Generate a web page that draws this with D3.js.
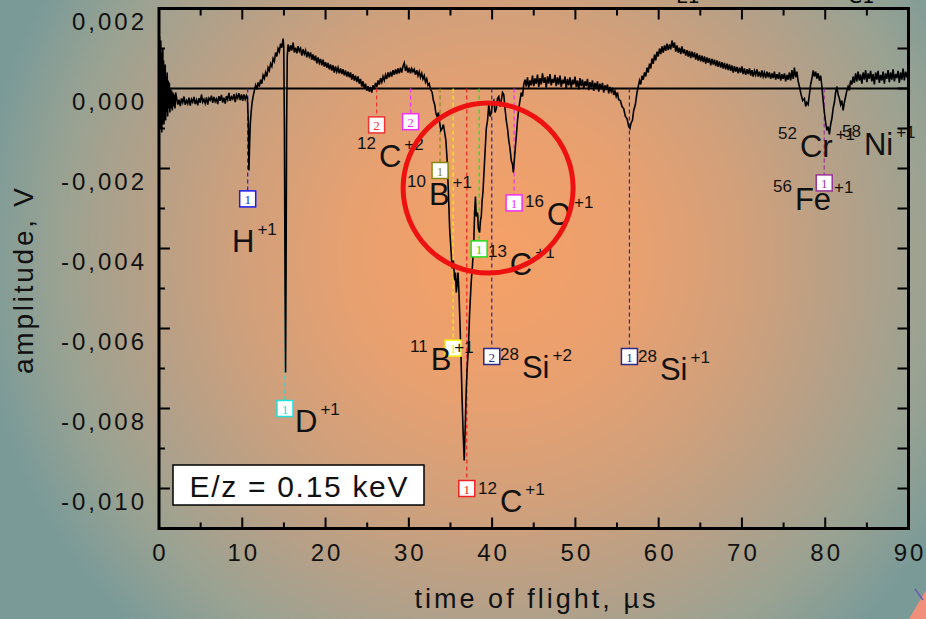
<!DOCTYPE html>
<html><head><meta charset="utf-8">
<script src="https://cdn.jsdelivr.net/npm/d3@7"></script>
<style>body{margin:0;overflow:hidden;background:#a8a08c} svg{display:block}</style>
</head><body>
<svg id="c" width="926" height="619"></svg>
<script>
// ---------- data ----------
const xTickValues = [0,10,20,30,40,50,60,70,80,90];
const xMinorValues = [5,15,25,35,45,55,65,75,85];
const yTickValues = [0.002,0,-0.002,-0.004,-0.006,-0.008,-0.010];
const yMinorValues = [0.001,-0.001,-0.003,-0.005,-0.007,-0.009,-0.011];
const xTitle = "time of flight, \u00b5s";
const yTitle = "amplitude, V";
const energyNote = "E/z = 0.15 keV";

// [time of flight (µs), amplitude (mV)]
const signalMilliV = [
[0.02,0.4],[0.06,1.3],[0.1,-0.5],[0.14,1.0],[0.18,-1.0],[0.22,1.2],[0.26,-0.8],[0.3,0.9],[0.34,-1.1],[0.38,0.6],
[0.42,-0.9],[0.46,1.0],[0.5,-0.6],[0.55,0.7],[0.6,-0.9],[0.65,0.5],[0.7,-0.7],[0.75,0.6],[0.8,-0.8],[0.86,0.3],
[0.92,-0.6],[0.98,0.4],[1.04,-0.7],[1.1,0.2],[1.17,-0.5],[1.24,0.15],[1.31,-0.6],[1.38,0.0],[1.45,-0.5],[1.52,-0.05],
[1.6,-0.55],[1.68,-0.1],[1.76,-0.45],[1.84,-0.15],[1.92,-0.5],[2.0,-0.1],
[2.10,-0.22],[2.25,-0.40],[2.40,-0.28],[2.55,-0.44],[2.70,-0.25],[2.85,-0.35],[3.00,-0.20],[3.15,-0.41],[3.30,-0.30],[3.45,-0.38],
[3.60,-0.23],[3.75,-0.43],[3.90,-0.27],[4.05,-0.34],[4.20,-0.21],[4.35,-0.39],[4.50,-0.29],[4.65,-0.42],[4.80,-0.24],[4.95,-0.36],
[5.10,-0.15],[5.25,-0.34],[5.40,-0.27],[5.55,-0.37],[5.70,-0.22],[5.85,-0.40],[6.00,-0.24],[6.15,-0.29],[6.30,-0.18],[6.45,-0.36],
[6.60,-0.21],[6.75,-0.33],[6.90,-0.26],[7.05,-0.39],[7.20,-0.19],[7.35,-0.31],[7.50,-0.16],[7.65,-0.35],[7.80,-0.23],[7.95,-0.38],
[8.10,-0.19],[8.25,-0.28],[8.40,-0.11],[8.55,-0.31],[8.70,-0.21],[8.85,-0.26],[9.00,-0.14],[9.15,-0.34],[9.30,-0.16],[9.45,-0.24],
[9.60,-0.12],[9.75,-0.29],[9.90,-0.15],[10.05,-0.31],[10.20,-0.15],[10.35,-0.27],[10.50,-0.18],
[10.62,-0.25],[10.72,-0.8],[10.8,-2.05],[10.88,-1.4],[10.96,-0.9],[11.06,-0.6],[11.18,-0.35],[11.3,-0.2],
[11.45,-0.05],[11.60,0.08],[11.75,-0.02],[11.90,0.15],[12.05,0.05],[12.20,0.22],[12.35,0.12],[12.50,0.33],[12.65,0.25],[12.80,0.40],
[12.95,0.30],[13.10,0.52],[13.25,0.45],[13.40,0.62],[13.55,0.55],[13.70,0.75],[13.85,0.68],[14.00,0.90],[14.15,0.80],[14.30,1.00],
[14.45,0.92],[14.60,1.12],[14.75,1.02],[14.90,1.25],[14.98,1.05],
[15.06,-1.0],[15.14,-5.0],[15.2,-7.1],[15.26,-4.5],[15.32,-1.0],[15.4,0.8],
[15.50,1.10],[15.65,0.92],[15.80,1.08],[15.95,0.95],[16.10,1.15],[16.25,0.90],[16.40,1.02],[16.55,0.88],[16.70,1.06],[16.85,0.93],
[17.00,1.00],[17.15,0.82],[17.30,0.98],[17.45,0.86],[17.60,0.95],[17.75,0.78],[17.90,0.92],[18.05,0.80],[18.20,0.90],[18.35,0.72],
[18.50,0.85],[18.65,0.70],[18.80,0.82],[18.95,0.63],[19.10,0.78],[19.25,0.64],[19.40,0.74],[19.55,0.58],[19.70,0.72],[19.85,0.55],
[20.00,0.66],[20.15,0.52],[20.30,0.64],[20.45,0.48],[20.60,0.60],[20.75,0.45],[20.90,0.58],[21.05,0.40],[21.20,0.55],[21.35,0.42],
[21.50,0.52],[21.65,0.38],[21.80,0.50],[21.95,0.36],[22.10,0.48],[22.25,0.33],[22.40,0.45],[22.55,0.30],[22.70,0.42],[22.85,0.28],
[23.00,0.40],[23.15,0.22],[23.30,0.36],[23.45,0.20],[23.60,0.32],[23.75,0.16],[23.90,0.30],[24.05,0.12],[24.20,0.24],[24.35,0.05],
[24.50,0.18],[24.65,0.00],[24.80,0.12],[24.95,-0.06],[25.10,0.06],[25.25,-0.08],[25.40,0.04],[25.55,-0.10],[25.70,0.08],[25.85,-0.02],
[26.00,0.14],[26.15,0.04],[26.30,0.20],[26.45,0.10],[26.60,0.26],[26.75,0.16],[26.90,0.30],[27.05,0.20],[27.20,0.34],[27.35,0.24],
[27.50,0.40],[27.65,0.28],[27.80,0.42],[27.95,0.30],[28.10,0.46],[28.25,0.34],[28.40,0.48],[28.55,0.36],[28.70,0.50],[28.85,0.38],
[29.00,0.52],[29.15,0.40],[29.30,0.56],[29.45,0.64],[29.60,0.44],[29.75,0.54],[29.90,0.40],[30.05,0.52],[30.20,0.38],[30.35,0.50],
[30.50,0.42],[30.65,0.48],[30.80,0.34],[30.95,0.46],[31.10,0.32],[31.25,0.42],[31.40,0.28],[31.55,0.38],[31.70,0.24],[31.85,0.32],
[32.00,0.16],[32.15,0.24],[32.30,0.08],[32.45,0.12],[32.60,-0.02],
[32.8,-0.1],[32.95,-0.3],[33.1,-0.4],[33.25,-0.62],[33.4,-0.7],[33.55,-0.6],[33.7,-0.85],[33.85,-1.05],[34.0,-1.0],[34.15,-0.9],
[34.3,-1.1],[34.45,-1.3],[34.6,-1.8],[34.75,-2.6],[34.9,-3.5],[35.05,-4.0],[35.2,-4.5],[35.35,-4.3],[35.5,-4.8],[35.6,-4.6],
[35.7,-5.1],[35.8,-4.9],[35.9,-4.6],[36.0,-5.0],[36.1,-5.6],[36.25,-6.6],[36.4,-7.8],[36.52,-8.6],[36.65,-9.3],[36.78,-8.4],
[36.9,-7.5],[37.0,-7.0],[37.15,-6.5],[37.3,-5.6],[37.5,-4.8],[37.65,-4.4],[37.8,-3.8],[37.9,-3.1],[38.0,-2.7],[38.1,-3.2],
[38.25,-3.1],[38.35,-3.5],[38.5,-3.6],[38.6,-3.3],[38.7,-3.2],[38.8,-2.8],[38.9,-2.6],[39.1,-1.8],[39.3,-1.0],[39.45,-0.8],
[39.6,-0.4],[39.75,-0.7],[39.9,-0.6],[40.05,-0.35],[40.2,-0.3],[40.35,-0.6],[40.5,-0.5],[40.65,-0.25],[40.8,-0.2],[40.95,-0.45],
[41.1,-0.3],[41.25,-0.1],[41.4,-0.15],[41.55,-0.5],[41.7,-0.8],[41.85,-1.0],[42.0,-1.3],[42.15,-1.5],[42.3,-1.8],[42.45,-1.9],
[42.55,-2.1],[42.7,-1.7],[42.9,-1.2],[43.05,-0.8],[43.2,-0.5],[43.35,-0.3],[43.5,-0.1],[43.65,-0.2],[43.8,0.1],
[43.95,0.22],[44.10,0.05],[44.25,0.28],[44.40,0.02],[44.55,0.20],[44.70,0.08],[44.85,0.32],[45.00,0.06],[45.15,0.25],[45.30,0.12],
[45.45,0.35],[45.60,0.04],[45.75,0.26],[45.90,0.10],[46.05,0.38],[46.20,0.14],[46.35,0.28],[46.50,0.02],[46.65,0.30],[46.80,0.12],
[46.95,0.36],[47.10,0.08],[47.25,0.24],[47.40,0.14],[47.55,0.34],[47.70,0.06],[47.85,0.28],[48.00,0.10],[48.15,0.32],[48.30,0.04],
[48.45,0.22],[48.60,0.12],[48.75,0.30],[48.90,0.00],[49.05,0.24],[49.20,0.08],[49.35,0.28],[49.50,0.02],[49.65,0.22],[49.80,0.10],
[49.95,0.30],[50.10,0.04],[50.25,0.20],[50.40,-0.02],[50.55,0.26],[50.70,0.06],[50.85,0.22],[51.00,0.00],[51.15,0.18],[51.30,0.06],
[51.45,0.24],[51.60,-0.04],[51.75,0.16],[51.90,0.02],[52.05,0.20],[52.20,-0.06],[52.35,0.14],[52.50,0.00],[52.65,0.18],[52.80,-0.08],
[52.95,0.12],[53.10,-0.02],[53.25,0.14],[53.40,-0.10],[53.55,0.08],[53.70,-0.04],[53.85,0.10],[54.00,-0.12],[54.15,0.04],[54.30,-0.08],
[54.45,0.02],[54.60,-0.16],[54.75,-0.06],[54.90,-0.20],[55.05,-0.10],[55.20,-0.28],
[55.4,-0.3],[55.6,-0.45],[55.8,-0.5],[56.0,-0.7],[56.2,-0.75],[56.4,-0.95],[56.55,-1.0],[56.7,-0.85],[56.85,-0.8],[57.0,-0.55],
[57.2,-0.4],[57.4,-0.1],[57.55,0.05],
[57.70,0.20],[57.85,0.10],[58.00,0.32],[58.15,0.22],[58.30,0.40],[58.45,0.30],[58.60,0.52],[58.75,0.40],[58.90,0.62],[59.05,0.50],
[59.20,0.75],[59.35,0.62],[59.50,0.85],[59.65,0.70],[59.80,0.92],[59.95,0.80],[60.10,1.00],[60.25,0.86],[60.40,1.05],[60.55,0.90],
[60.70,1.08],[60.85,0.94],[61.00,1.12],[61.15,0.96],[61.30,1.10],[61.45,0.98],[61.60,1.20],[61.75,1.02],[61.90,1.15],
[62.05,0.92],[62.20,1.08],[62.35,0.90],[62.50,1.02],[62.65,0.86],[62.80,1.05],[62.95,0.88],[63.10,0.98],[63.25,0.82],[63.40,0.96],
[63.55,0.80],[63.70,0.94],[63.85,0.76],[64.00,0.92],[64.15,0.78],[64.30,0.90],[64.45,0.72],[64.60,0.88],[64.75,0.70],[64.90,0.84],
[65.05,0.68],[65.20,0.82],[65.35,0.66],[65.50,0.80],[65.65,0.62],[65.80,0.78],[65.95,0.64],[66.10,0.76],[66.25,0.58],[66.40,0.74],
[66.55,0.60],[66.70,0.72],[66.85,0.56],[67.00,0.70],[67.15,0.54],[67.30,0.68],[67.45,0.52],[67.60,0.66],[67.75,0.50],[67.90,0.64],
[68.05,0.48],[68.20,0.62],[68.35,0.46],[68.50,0.60],[68.65,0.44],[68.80,0.58],[68.95,0.40],[69.10,0.56],[69.25,0.42],[69.40,0.54],
[69.55,0.38],[69.70,0.52],[69.85,0.40],[70.00,0.55],[70.15,0.36],[70.30,0.50],[70.45,0.34],[70.60,0.48],[70.75,0.36],[70.90,0.50],
[71.05,0.32],[71.20,0.46],[71.35,0.30],[71.50,0.44],[71.65,0.34],[71.80,0.48],[71.95,0.30],[72.10,0.42],[72.25,0.28],[72.40,0.45],
[72.55,0.30],[72.70,0.40],[72.85,0.26],[73.00,0.42],[73.15,0.28],[73.30,0.40],[73.45,0.24],[73.60,0.38],[73.75,0.26],[73.90,0.42],
[74.05,0.22],[74.20,0.36],[74.35,0.24],[74.50,0.40],[74.65,0.20],[74.80,0.36],[74.95,0.24],[75.10,0.38],[75.25,0.18],[75.40,0.34],
[75.55,0.22],[75.70,0.40],[75.85,0.20],[76.00,0.46],[76.15,0.24],[76.30,0.52],[76.45,0.28],[76.60,0.42],[76.75,0.18],
[76.9,0.05],[77.1,-0.15],[77.3,-0.3],[77.5,-0.25],[77.65,-0.45],[77.8,-0.35],[77.95,-0.4],[78.1,-0.15],[78.25,0.1],[78.4,0.25],
[78.55,0.45],[78.7,0.3],[78.85,0.42],[79.0,0.25],[79.15,0.38],[79.3,0.2],[79.45,0.32],[79.6,0.05],[79.75,-0.3],[79.9,-0.6],
[80.05,-0.85],[80.2,-1.05],[80.35,-0.95],[80.5,-1.15],[80.65,-0.9],[80.8,-0.75],[80.95,-0.5],[81.1,-0.35],[81.25,-0.1],[81.4,0.05],
[81.55,-0.15],[81.7,-0.25],[81.85,-0.4],[82.0,-0.3],[82.15,-0.55],[82.3,-0.35],[82.45,-0.2],[82.6,-0.05],[82.75,0.05],[82.9,-0.05],
[83.05,0.2],[83.2,0.1],
[83.35,0.30],[83.50,0.14],[83.65,0.38],[83.80,0.18],[83.95,0.42],[84.10,0.20],[84.25,0.35],[84.40,0.12],[84.55,0.40],[84.70,0.22],
[84.85,0.46],[85.00,0.16],[85.15,0.38],[85.30,0.24],[85.45,0.44],[85.60,0.18],[85.75,0.36],[85.90,0.10],[86.05,0.40],[86.20,0.22],
[86.35,0.44],[86.50,0.14],[86.65,0.34],[86.80,0.20],[86.95,0.42],[87.10,0.12],[87.25,0.38],[87.40,0.24],[87.55,0.46],[87.70,0.16],
[87.85,0.40],[88.00,0.22],[88.15,0.48],[88.30,0.18],[88.45,0.36],[88.60,0.26],[88.75,0.44],[88.90,0.14],[89.05,0.40],[89.20,0.22],
[89.35,0.50],[89.50,0.20],[89.65,0.42],[89.80,0.28],[89.95,0.45]
];

// peak markers: time of flight, box amplitude (V), box number
const markerTof = [10.65,15.13,26.13,30.21,33.75,35.32,36.96,38.44,42.64,39.96,56.49,79.88];
const markerAmp = [-0.00276,-0.0080,-0.00091,-0.00083,-0.00205,-0.00649,-0.0100,-0.00401,-0.00286,-0.0067,-0.0067,-0.00236];
const markerNum = ["1","1","2","2","1","1","1","1","1","2","1","1"];
const markerColor = ["#1c1cee","#22e0e0","#ee3333","#ee33ee","#888811","#f2f200","#ee2222","#22dd22","#ee33ee","#2a2a8a","#2a2a8a","#993399"];

// ion labels: isotope, element, charge, anchor (tof, amplitude V)
const ionIso    = ["","","12","10","11","12","13","16","28","28","56","52","58"];
const ionEl     = ["H","D","C","B","B","C","C","O","Si","Si","Fe","Cr","Ni"];
const ionCharge = ["+1","+1","+2","+1","+1","+1","+1","+1","+2","+1","+1","+1","+1"];
const ionTof    = [8.77,16.33,23.78,29.78,30.14,38.3,39.5,43.95,40.95,57.52,73.73,74.33,82.01];
const ionAmp    = [-0.00409,-0.00859,-0.00196,-0.00291,-0.00704,-0.01059,-0.00466,-0.00341,-0.00724,-0.00729,-0.00304,-0.00171,-0.00166];

// highlighted region (circle centre)
const circleTof = 39.52, circleAmp = -0.00249;

// ---------- drawing ----------
const svg = d3.select("#c");
const W = 926, H = 619;
const x = d3.scaleLinear().domain([0,90]).range([159,908.5]);
const y = d3.scaleLinear().domain([-0.011,0.002]).range([528.5,8.5]);
const FONT = "'Liberation Sans', Arial, Helvetica, sans-serif";

const defs = svg.append("defs");
const rg = defs.append("radialGradient").attr("id","bg").attr("gradientUnits","userSpaceOnUse")
  .attr("cx",495).attr("cy",255).attr("r",520);
[[0,"#f6a066"],[0.28,"#e8a070"],[0.5,"#cfa07c"],[0.68,"#b4a088"],[0.84,"#9aa292"],[1,"#7a9a98"]]
  .forEach(s=>rg.append("stop").attr("offset",s[0]).attr("stop-color",s[1]));
svg.append("rect").attr("width",W).attr("height",H).attr("fill","url(#bg)");

// decoration bottom-right
svg.append("path").attr("d","M926,590 L909,619 L926,619 Z").attr("fill","#f0907a");
svg.append("line").attr("x1",915).attr("y1",589).attr("x2",923).attr("y2",600).attr("stroke","#6a5ab0").attr("stroke-width",1.5);

// partial top texts (cut by the top edge, as in the reference)
svg.append("text").attr("x",676).attr("y",3).attr("font-family","DejaVu Sans").attr("font-size",20).text("L1");
svg.append("text").attr("x",848).attr("y",3).attr("font-family","DejaVu Sans").attr("font-size",20).text("C1");

// zero line
svg.append("line").attr("x1",x(0)).attr("x2",x(90)).attr("y1",y(0)).attr("y2",y(0))
  .attr("stroke","#000").attr("stroke-width",2);

// dashed marker lines
const markers = markerTof.map((t,i)=>({t,a:markerAmp[i],n:markerNum[i],c:markerColor[i]}));
svg.append("g").selectAll("line").data(markers).join("line")
  .attr("x1",d=>x(d.t)).attr("x2",d=>x(d.t)).attr("y1",y(0)).attr("y2",d=>y(d.a)-8)
  .attr("stroke",d=>d.c).attr("stroke-width",1.2).attr("stroke-dasharray","4,3");

// signal
svg.append("path").datum(signalMilliV)
  .attr("d",d3.line().x(d=>x(d[0])).y(d=>y(d[1]/1000)))
  .attr("fill","none").attr("stroke","#000").attr("stroke-width",1.6).attr("stroke-linejoin","miter");

// marker boxes
const mg = svg.append("g").selectAll("g").data(markers).join("g")
  .attr("transform",d=>`translate(${x(d.t)},${y(d.a)})`);
mg.append("rect").attr("x",-8).attr("y",-8).attr("width",16).attr("height",16)
  .attr("fill","#fff").attr("stroke",d=>d.c).attr("stroke-width",1.5);
mg.append("text").attr("text-anchor","middle").attr("y",5).attr("font-family","'Liberation Serif', serif")
  .attr("font-size",13).attr("fill",d=>d.c).text(d=>d.n);

// ion labels
const ions = ionEl.map((e,i)=>({iso:ionIso[i],el:e,ch:ionCharge[i],t:ionTof[i],a:ionAmp[i]}));
const lt = svg.append("g").selectAll("text").data(ions).join("text")
  .attr("x",d=>x(d.t)).attr("y",d=>y(d.a)).attr("font-family",FONT).attr("fill","#111");
lt.each(function(d){
  const t = d3.select(this);
  if (d.iso) {
    t.append("tspan").attr("font-size",17).attr("dy",-18).text(d.iso);
    t.append("tspan").attr("font-size",31).attr("dy",18).attr("dx",3).text(d.el);
  } else {
    t.append("tspan").attr("font-size",31).text(d.el);
  }
  t.append("tspan").attr("font-size",17).attr("dy",-17).attr("dx",3).text(d.ch);
});

// red circle
svg.append("circle").attr("cx",x(circleTof)).attr("cy",y(circleAmp)).attr("r",85)
  .attr("fill","none").attr("stroke","#ee1111").attr("stroke-width",5);

// frame
svg.append("rect").attr("x",x(0)).attr("y",y(0.002)).attr("width",x(90)-x(0)).attr("height",y(-0.011)-y(0.002))
  .attr("fill","none").attr("stroke","#000").attr("stroke-width",3);

// ticks
const tk = svg.append("g").attr("stroke","#000").attr("stroke-width",2);
xTickValues.forEach(v=>{
  tk.append("line").attr("x1",x(v)).attr("x2",x(v)).attr("y1",y(-0.011)).attr("y2",y(-0.011)-11);
  tk.append("line").attr("x1",x(v)).attr("x2",x(v)).attr("y1",y(0.002)).attr("y2",y(0.002)+11);
});
xMinorValues.forEach(v=>{
  tk.append("line").attr("x1",x(v)).attr("x2",x(v)).attr("y1",y(-0.011)).attr("y2",y(-0.011)-6);
  tk.append("line").attr("x1",x(v)).attr("x2",x(v)).attr("y1",y(0.002)).attr("y2",y(0.002)+7);
});
yTickValues.forEach(v=>{
  tk.append("line").attr("x1",x(0)).attr("x2",x(0)+11).attr("y1",y(v)).attr("y2",y(v));
  tk.append("line").attr("x1",x(90)).attr("x2",x(90)-11).attr("y1",y(v)).attr("y2",y(v));
});
yMinorValues.forEach(v=>{
  tk.append("line").attr("x1",x(0)).attr("x2",x(0)+6).attr("y1",y(v)).attr("y2",y(v));
  tk.append("line").attr("x1",x(90)).attr("x2",x(90)-11).attr("y1",y(v)).attr("y2",y(v));
});

// tick labels
const loc = d3.formatLocale({decimal:",",thousands:".",grouping:[3],currency:["",""],minus:"-"});
const fy = loc.format(".3f");
svg.append("g").selectAll("text").data(yTickValues).join("text")
  .attr("x",147).attr("y",d=>y(d)+21).attr("text-anchor","end").attr("font-family",FONT)
  .attr("font-size",24).attr("letter-spacing",3).attr("fill","#111").text(d=>fy(d));
svg.append("g").selectAll("text").data(xTickValues).join("text")
  .attr("x",d=>x(d)+1.5).attr("y",561).attr("text-anchor","middle").attr("font-family",FONT)
  .attr("font-size",24).attr("letter-spacing",3).attr("fill","#111").text(d=>d);

// axis titles
svg.append("text").attr("x",535).attr("y",608).attr("text-anchor","middle").attr("font-family",FONT)
  .attr("font-size",27).attr("textLength",241).attr("lengthAdjust","spacing").attr("fill","#111").text(xTitle);
svg.append("text").attr("transform","translate(33,281) rotate(-90)").attr("text-anchor","middle")
  .attr("font-family",FONT).attr("font-size",28).attr("textLength",186).attr("lengthAdjust","spacing")
  .attr("fill","#111").text(yTitle);

// energy note
svg.append("rect").attr("x",173).attr("y",465).attr("width",251).attr("height",40)
  .attr("fill","#fff").attr("stroke","#000").attr("stroke-width",1.5);
svg.append("text").attr("x",298.5).attr("y",497).attr("text-anchor","middle").attr("font-family",FONT)
  .attr("font-size",30).attr("textLength",218).attr("lengthAdjust","spacing").attr("fill","#111").text(energyNote);
</script>
</body></html>
